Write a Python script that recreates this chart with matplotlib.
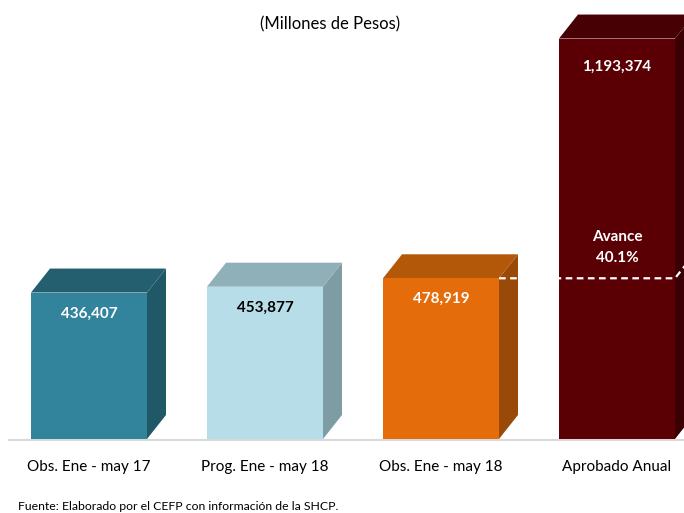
import matplotlib.pyplot as plt
from matplotlib.patches import Polygon, Rectangle

# datos
categorias = ["Obs. Ene - may 17", "Prog. Ene - may 18", "Obs. Ene - may 18", "Aprobado Anual"]
valores = [436407, 453877, 478919, 1193374]
etiquetas = ["436,407", "453,877", "478,919", "1,193,374"]
avance = "Avance\n40.1%"

# colores: frente, lado, arriba, texto
frente = ["#31849B", "#B7DEE8", "#E46C0A", "#5A0005"]
lado = ["#215868", "#7E9CA4", "#9A4A08", "#3A0003"]
arriba = ["#245F70", "#8FB0B8", "#B25808", "#470004"]
texto = ["white", "black", "white", "white"]

plt.rcParams['font.family'] = ['Lato', 'DejaVu Sans']

fig = plt.figure(figsize=(6.84, 5.13), dpi=100)
ax = fig.add_axes([0, 0, 1, 1])
upp = 2980  # unidades por pixel
ax.set_xlim(-89 / 176, (684 - 89) / 176)
ax.set_ylim(-74 * upp, (513 - 74) * upp)
ax.axis('off')

w = 116 / 176
dx = 19 / 176
dy = 24 * upp

# piso
ax.plot([-80 / 176, 3.5], [-0.004e6, -0.004e6], color="#D9D9D9", lw=1.5, zorder=0)

for i, v in enumerate(valores):
    x0 = i - w / 2
    x1 = i + w / 2
    ax.add_patch(Polygon([(x1, 0), (x1 + dx, dy), (x1 + dx, v + dy), (x1, v)],
                         closed=True, facecolor=lado[i], edgecolor='none', zorder=2))
    ax.add_patch(Polygon([(x0, v), (x1, v), (x1 + dx, v + dy), (x0 + dx, v + dy)],
                         closed=True, facecolor=arriba[i], edgecolor='none', zorder=2))
    ax.add_patch(Rectangle((x0, 0), w, v, facecolor=frente[i], edgecolor='none', zorder=3))
    off = 28 if i == 3 else 21
    ax.text(i, v - off * upp, etiquetas[i], ha='center', va='center', color=texto[i],
            fontsize=11, fontweight='bold', zorder=5)
    ax.text(i, -28 * upp, categorias[i], ha='center', va='center', fontsize=11, color='black')

# linea de avance
v3 = valores[2]
ax.plot([2 + w / 2, 3 + w / 2, 3 + w / 2 + dx], [v3, v3, v3 + dy], color='white',
        lw=1.6, ls=(0, (3, 2)), zorder=4)
ax.text(3, v3 + 31 * upp, avance, ha='center', va='center', color='white',
        fontsize=11, fontweight='bold', zorder=5, linespacing=1.65)

fig.text(330 / 684, 1 - 24 / 513, "(Millones de Pesos)", ha='center', va='center', fontsize=12)
fig.text(18 / 684, 1 - 506 / 513, "Fuente: Elaborado por el CEFP con información de la SHCP.",
         ha='left', va='center', fontsize=8.8)

fig.savefig("out.png", dpi=100)
